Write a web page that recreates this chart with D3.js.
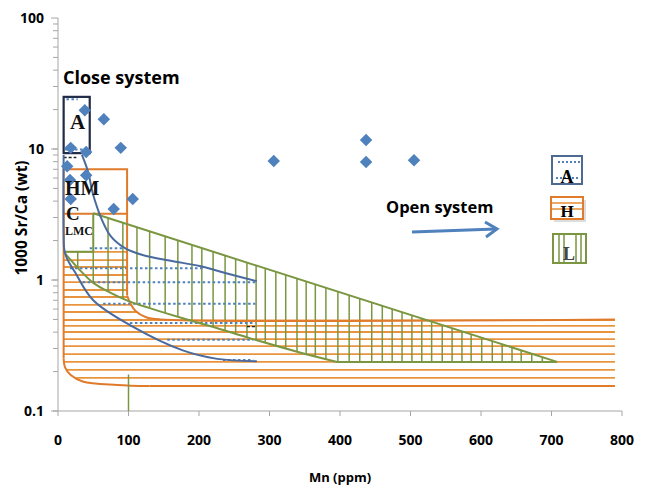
<!DOCTYPE html>
<html><head><meta charset="utf-8">
<script src="https://cdn.jsdelivr.net/npm/d3@7"></script>
<style>body{margin:0;background:#fff}</style>
</head><body><svg id="chart" width="648" height="488"></svg>
<script>
// Sample points: Mn (ppm) and 1000 Sr/Ca (wt)
const mnSamples    = [38, 65, 18, 40, 89, 13, 40, 17, 18, 106, 79, 306, 437, 437, 505];
const srCaSamples  = [19.8, 16.9, 10.2, 9.5, 10.2, 7.4, 6.3, 5.8, 4.15, 4.15, 3.48, 8.1, 11.7, 7.95, 8.2];

// Axis ticks
const xTicks = [0, 100, 200, 300, 400, 500, 600, 700, 800];
const yMajorTicks = [0.1, 1, 10, 100];
const yTickLabels = ["0.1", "1", "10", "100"];

// Close-system boxes [Mn0, Mn1, SrCa0, SrCa1]
const boxA  = [8, 45, 9.3, 25];
const boxHM = [8, 98, 3.2, 7.0];

// H field (orange) outline and hatch levels
const hOutlineTop = [[790, 0.5], [145, 0.5], [125, 0.52], [110, 0.58], [103, 0.66], [98, 0.76]];
const hOutlineSide = [[98, 0.76], [98, 7.0], [8, 7.0], [8, 0.25]];
const hOutlineCorner = [[8, 0.25], [10, 0.215], [18, 0.188], [35, 0.168], [84, 0.158], [130, 0.155]];
const hOutlineBottom = [[130, 0.155], [790, 0.155]];
const hHatchLevels = [1.64, 1.42, 1.257, 1.092, 0.965, 0.839, 0.742, 0.645, 0.57, 0.495,
                      0.446, 0.401, 0.354, 0.313, 0.272, 0.237, 0.206, 0.179];

// L field (green) outline and hatch positions
const lUpper = [[50, 3.23], [708, 0.237]];
const lLower = [[708, 0.237], [396, 0.237], [343, 0.28], [272, 0.36], [225, 0.43], [177, 0.51],
                [130, 0.61], [100, 0.69], [74, 0.80], [50, 0.95], [31, 1.19], [8, 1.64]];
const lLeft = [[8, 1.64], [50, 1.64], [50, 3.23]];
const lHatchMn = [28, 50, 71, 92, 112, 130, 152, 170, 190, 204, 220, 237, 252, 268, 281, 294, 309,
                  323, 339, 352, 365, 380, 397, 413, 428, 445, 460, 474, 488, 502, 516, 530, 545,
                  559, 573, 586, 601, 616, 630, 644, 657, 672, 687, 701];
const lStem = [[100, 0.1], [100, 0.19]];

// A field (blue) bounding curves and dotted levels
const aUpperCurve = [[34, 9.0], [43, 6.6], [48, 4.9], [52, 4.1], [62, 2.9], [75, 2.15], [95, 1.75],
                     [120, 1.55], [160, 1.4], [201, 1.28], [240, 1.12], [282, 0.98]];
const aLowerCurve = [[8, 9.0], [8, 2.2], [9, 1.7], [13, 1.45], [24, 1.15], [50, 0.70], [106, 0.44],
                     [177, 0.29], [226, 0.25], [282, 0.24]];
const aDotLevels = [24, 9.9, 1.75, 1.23, 0.96, 0.66, 0.47, 0.35, 0.245];
const aDotStart  = [12, 10, 45, 17, 35, 64, 102, 155, 234];
const aDotEnd    = [28, 45, 92, 205, 280, 280, 280, 277, 277];

const svg = d3.select("#chart");
const x = d3.scaleLinear().domain([0, 800]).range([58, 622]);
const y = d3.scaleLog().domain([0.1, 100]).range([411, 18]);

const blue = "#4f81bd", curveBlue = "#4a6a9e", orange = "#e07b2c", orangeHatch = "#e8943f",
      green = "#7a9640", navy = "#1f2b47";
const sans = "'Open Sans', 'DejaVu Sans', sans-serif";
const serif = "'Liberation Serif', 'DejaVu Serif', serif";

const line = d3.line().x(d => x(d[0])).y(d => y(d[1]));
const smooth = d3.line().x(d => x(d[0])).y(d => y(d[1])).curve(d3.curveCatmullRom.alpha(0.5));

// ---- axes ----
const axisColor = "#a6a6a6";
const gy = svg.append("g");
gy.append("line").attr("x1", x(0)).attr("x2", x(0)).attr("y1", y(0.1)).attr("y2", y(100))
  .attr("stroke", axisColor).attr("stroke-width", 1);
const minor = [];
for (let dec = 0.1; dec < 100; dec *= 10) for (let m = 1; m < 10; m++) minor.push(+(dec * m).toPrecision(3));
gy.selectAll(".mt").data(minor).join("line")
  .attr("x1", x(0) - 5).attr("x2", x(0)).attr("y1", d => y(d)).attr("y2", d => y(d))
  .attr("stroke", axisColor);
gy.selectAll(".Mt").data(yMajorTicks).join("line")
  .attr("x1", x(0) - 7).attr("x2", x(0)).attr("y1", d => y(d)).attr("y2", d => y(d))
  .attr("stroke", axisColor);
gy.selectAll(".yl").data(yMajorTicks).join("text")
  .attr("x", 44).attr("y", d => y(d) + 5).attr("text-anchor", "end")
  .attr("font-family", sans).attr("font-weight", 700).attr("font-size", 14)
  .text((d, i) => yTickLabels[i]);

const gx = svg.append("g");
gx.append("line").attr("x1", x(0)).attr("x2", x(800)).attr("y1", y(0.1)).attr("y2", y(0.1))
  .attr("stroke", axisColor);
gx.selectAll(".xt").data(xTicks).join("line")
  .attr("x1", d => x(d)).attr("x2", d => x(d)).attr("y1", y(0.1)).attr("y2", y(0.1) + 5)
  .attr("stroke", axisColor);
gx.selectAll(".xl").data(xTicks).join("text")
  .attr("x", d => x(d)).attr("y", 445).attr("text-anchor", "middle")
  .attr("font-family", sans).attr("font-weight", 700).attr("font-size", 14)
  .text(d => d);

svg.append("text").attr("x", 340).attr("y", 482).attr("text-anchor", "middle")
  .attr("font-family", sans).attr("font-weight", 700).attr("font-size", 13).text("Mn (ppm)");
svg.append("text").attr("transform", "translate(27,218) rotate(-90)").attr("text-anchor", "middle")
  .attr("font-family", sans).attr("font-weight", 700).attr("font-size", 15.5).text("1000 Sr/Ca (wt)");

// ---- clip paths for hatched fields ----
const defs = svg.append("defs");
const hPoly = [...hOutlineTop, ...hOutlineSide.slice(1), ...hOutlineCorner.slice(1), ...hOutlineBottom.slice(1)];
defs.append("clipPath").attr("id", "clipH").append("path").attr("d", line(hPoly) + "Z");
const lPoly = [...lUpper, ...lLower.slice(1), ...lLeft.slice(1)];
defs.append("clipPath").attr("id", "clipL").append("path").attr("d", line(lPoly) + "Z");

// ---- H field: horizontal hatching ----
svg.append("g").attr("clip-path", "url(#clipH)").selectAll("line").data(hHatchLevels).join("line")
  .attr("x1", x(0)).attr("x2", x(800)).attr("y1", d => y(d)).attr("y2", d => y(d))
  .attr("stroke", orangeHatch).attr("stroke-width", 1.8);

// ---- L field: vertical hatching ----
svg.append("g").attr("clip-path", "url(#clipL)").selectAll("line").data(lHatchMn).join("line")
  .attr("x1", d => x(d)).attr("x2", d => x(d)).attr("y1", y(0.1)).attr("y2", y(10))
  .attr("stroke", green).attr("stroke-width", 1.5);

// ---- A field: dotted levels ----
svg.append("g").selectAll("line").data(aDotLevels).join("line")
  .attr("x1", (d, i) => x(aDotStart[i])).attr("x2", (d, i) => x(aDotEnd[i]))
  .attr("y1", d => y(d)).attr("y2", d => y(d))
  .attr("stroke", blue).attr("stroke-width", 2).attr("stroke-dasharray", "2.5,2.5");
// short dark dashes
svg.append("line").attr("x1", x(8)).attr("x2", x(26)).attr("y1", y(8.6)).attr("y2", y(8.6))
  .attr("stroke", "#222").attr("stroke-width", 1.5).attr("stroke-dasharray", "3,2");
svg.append("line").attr("x1", x(268)).attr("x2", x(282)).attr("y1", y(0.44)).attr("y2", y(0.44))
  .attr("stroke", "#222").attr("stroke-width", 1.3).attr("stroke-dasharray", "3,2");

// ---- H outline ----
const gH = svg.append("g").attr("fill", "none").attr("stroke", orange).attr("stroke-width", 2);
gH.append("path").attr("d", smooth(hOutlineTop));
gH.append("path").attr("d", line(hOutlineSide));
gH.append("path").attr("d", smooth(hOutlineCorner));
gH.append("path").attr("d", line(hOutlineBottom));
gH.append("path").attr("d", line([[boxHM[0], boxHM[2]], [boxHM[1], boxHM[2]]]));

// ---- L outline ----
const gL = svg.append("g").attr("fill", "none").attr("stroke", green).attr("stroke-width", 2);
gL.append("path").attr("d", line(lUpper));
gL.append("path").attr("d", line(lLower.slice(0, 2)));
gL.append("path").attr("d", smooth(lLower.slice(1)));
gL.append("path").attr("d", line(lLeft));
gL.append("path").attr("d", line(lStem)).attr("stroke-width", 1.5);

// ---- A curves ----
const gA = svg.append("g").attr("fill", "none").attr("stroke", curveBlue).attr("stroke-width", 2);
gA.append("path").attr("d", smooth(aUpperCurve));
gA.append("path").attr("d", smooth(aLowerCurve));

// ---- box A ----
svg.append("rect").attr("x", x(boxA[0])).attr("y", y(boxA[3]))
  .attr("width", x(boxA[1]) - x(boxA[0])).attr("height", y(boxA[2]) - y(boxA[3]))
  .attr("fill", "none").attr("stroke", navy).attr("stroke-width", 2.2);

// ---- sample diamonds ----
svg.append("g").selectAll("path").data(mnSamples).join("path")
  .attr("d", d3.symbol(d3.symbolSquare, 78)())
  .attr("transform", (d, i) => `translate(${x(d)},${y(srCaSamples[i])}) rotate(45)`)
  .attr("fill", blue);

// ---- field labels ----
const lab = (t, px, py, fs) => svg.append("text").attr("x", px).attr("y", py)
  .attr("font-family", serif).attr("font-weight", 700).attr("font-size", fs).attr("fill", "#111").text(t);
lab("A", 70, 129, 21);
lab("HM", 65, 195, 20);
lab("C", 66, 220, 19);
lab("LMC", 65, 235, 12);

svg.append("text").attr("x", 63).attr("y", 84).attr("font-family", sans).attr("font-weight", 700)
  .attr("font-size", 18).text("Close system");
svg.append("text").attr("x", 386).attr("y", 213).attr("font-family", sans).attr("font-weight", 700)
  .attr("font-size", 16.5).text("Open system");

// open-system arrow
svg.append("line").attr("x1", 412).attr("y1", 232).attr("x2", 496).attr("y2", 229)
  .attr("stroke", blue).attr("stroke-width", 3);
svg.append("path").attr("d", "M485,222 L497,229 L486,237").attr("fill", "none")
  .attr("stroke", blue).attr("stroke-width", 3);

// ---- key boxes ----
const key = svg.append("g");
// A
key.append("rect").attr("x", 552).attr("y", 156).attr("width", 30).attr("height", 28)
  .attr("fill", "#fff").attr("stroke", "#4d6a90").attr("stroke-width", 2);
key.append("line").attr("x1", 558).attr("x2", 580).attr("y1", 162).attr("y2", 162)
  .attr("stroke", blue).attr("stroke-width", 2).attr("stroke-dasharray", "2,2");
key.append("line").attr("x1", 556).attr("x2", 578).attr("y1", 178).attr("y2", 178)
  .attr("stroke", blue).attr("stroke-width", 2).attr("stroke-dasharray", "2,2");
key.append("text").attr("x", 567).attr("y", 183).attr("text-anchor", "middle")
  .attr("font-family", serif).attr("font-weight", 700).attr("font-size", 18).text("A");
// H
key.append("rect").attr("x", 554).attr("y", 200).attr("width", 32).attr("height", 22)
  .attr("fill", "#bbb").attr("opacity", 0.5);
key.append("rect").attr("x", 551).attr("y", 197).attr("width", 32).attr("height", 22)
  .attr("fill", "#fff").attr("stroke", orange).attr("stroke-width", 2);
[203, 209].forEach(v => key.append("line").attr("x1", 552).attr("x2", 582).attr("y1", v).attr("y2", v)
  .attr("stroke", orangeHatch).attr("stroke-width", 1.6));
key.append("text").attr("x", 567).attr("y", 217).attr("text-anchor", "middle")
  .attr("font-family", serif).attr("font-weight", 700).attr("font-size", 17).text("H");
// L
key.append("rect").attr("x", 553).attr("y", 234).attr("width", 33).attr("height", 29)
  .attr("fill", "#fff").attr("stroke", green).attr("stroke-width", 2);
[559, 564, 576, 581].forEach(v => key.append("line").attr("x1", v).attr("x2", v).attr("y1", 235).attr("y2", 262)
  .attr("stroke", green).attr("stroke-width", 1.5));
key.append("text").attr("x", 569).attr("y", 260).attr("text-anchor", "middle")
  .attr("font-family", serif).attr("font-weight", 700).attr("font-size", 18).attr("fill", "#444").text("L");
</script></body></html>
